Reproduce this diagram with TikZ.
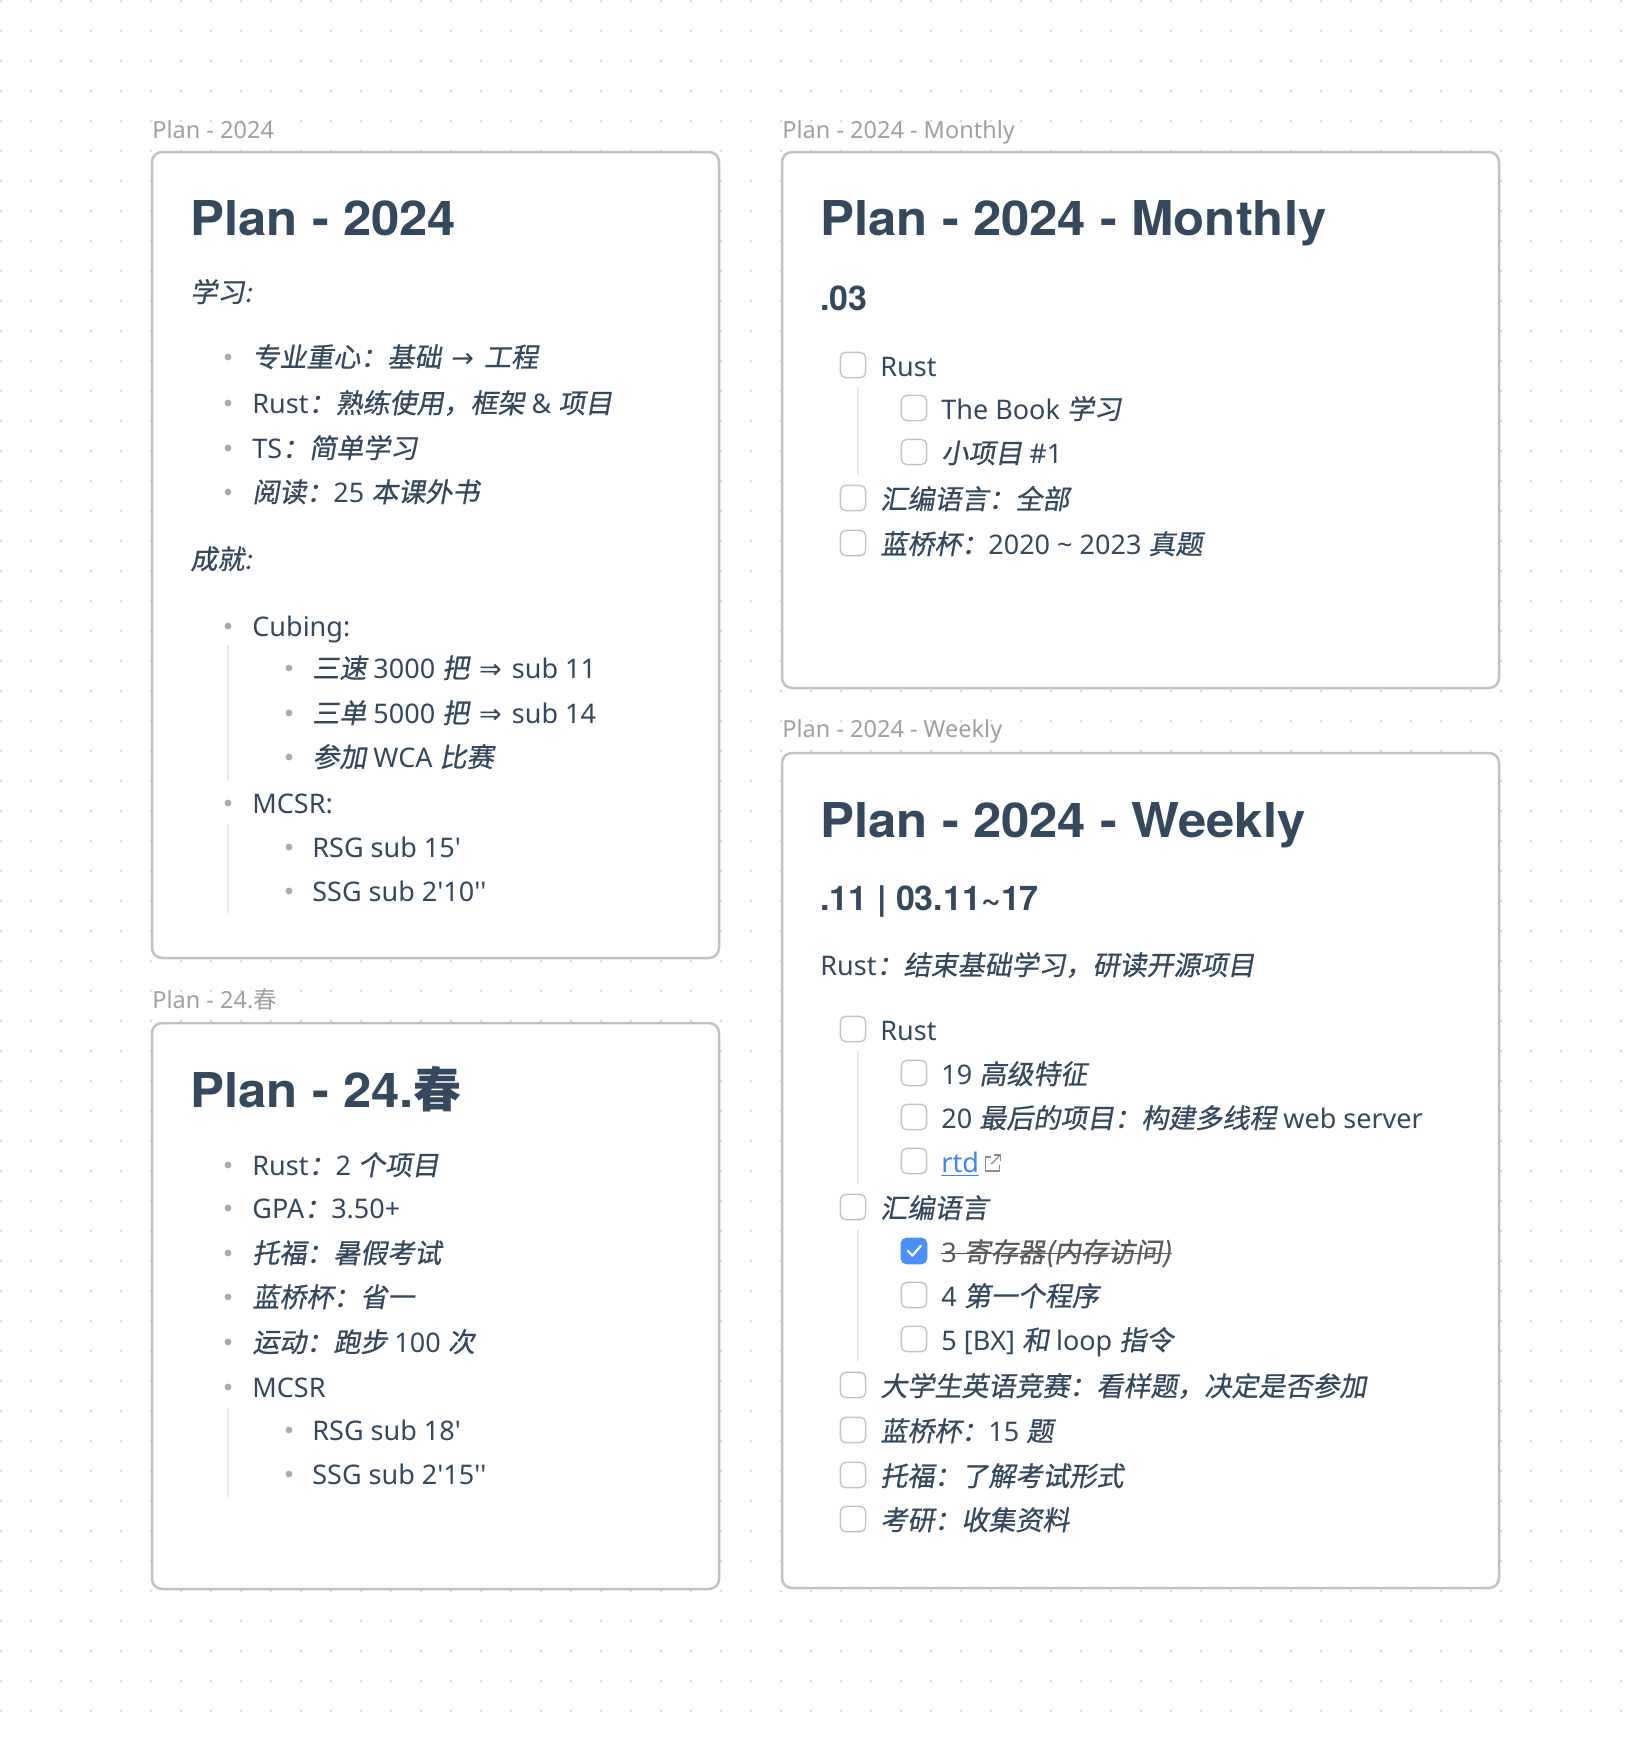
\documentclass[tikz,border=0pt]{standalone}
\usepackage{fontspec}
\setmainfont{Noto Sans}
\newfontfamily\cjkfont[FakeSlant=0.18, FakeBold=0.7]{Noto Sans CJK SC}
\newfontfamily\cjkup{Noto Sans CJK SC}
\newfontfamily\symfont{DejaVu Sans}
\newfontfamily\ttlfont[FakeStretch=1.06]{TeX Gyre Heros}
\newfontfamily\subfont{TeX Gyre Heros}
\newcommand\zh[1]{{\cjkfont #1}}
\newcommand\zhup[1]{{\cjkup #1}}
\newcommand\sym[1]{\hspace{1.5pt}{\symfont #1}\hspace{1.5pt}}
\newcommand\sq{\textquotesingle}
\definecolor{ink}{HTML}{34495E}
\definecolor{lblgray}{HTML}{A0A0A0}
\definecolor{cardline}{HTML}{C2C2C2}
\definecolor{bulgray}{HTML}{ABABAB}
\definecolor{boxgray}{HTML}{C4C4C4}
\definecolor{guidegray}{HTML}{E8E8E8}
\definecolor{dotgray}{HTML}{D9D9D9}
\definecolor{linkblue}{HTML}{3E86F2}
\definecolor{checkblue}{HTML}{4A90F8}
\definecolor{donegray}{HTML}{5A5A5A}
\definecolor{icongray}{HTML}{8A8A8A}
\begin{document}
\begin{tikzpicture}[x=0.5pt,y=-0.5pt,
  txt/.style={anchor=base west, inner sep=0pt, text=ink, text height=10pt, text depth=3pt, font=\fontsize{13.5}{16}\selectfont},
  ttl/.style={anchor=base west, inner sep=0pt, text=ink, font=\ttlfont\fontsize{24}{28}\selectfont\bfseries},
  subhead/.style={anchor=base west, inner sep=0pt, text=ink, font=\subfont\fontsize{17}{20}\selectfont\bfseries},
  lbl/.style={anchor=base west, inner sep=0pt, text=lblgray, text height=8pt, text depth=2pt, font=\fontsize{11.75}{14}\selectfont},
  card/.style={draw=cardline, line width=1.25pt, fill=white, rounded corners=5pt},
  bul/.style={circle, fill=bulgray, inner sep=0pt, minimum size=3.4pt},
  cbox/.style={draw=boxgray, line width=0.7pt, rounded corners=2.6pt, minimum size=12.6pt, inner sep=0pt, fill=white},
  donebox/.style={cbox, draw=checkblue, fill=checkblue},
  guide/.style={draw=guidegray, line width=0.75pt},
  strk/.style={draw=donegray, line width=0.7pt}
]
\fill[white] (0,0) rectangle (1650,1740);
\useasboundingbox (0,0) rectangle (1650,1740);
% dotted background
\foreach \i in {0,...,54} {
  \foreach \j in {0,...,57} {
    \fill[dotgray] (1+30*\i,1+30*\j) circle (0.65pt);
  }
}
% cards
\draw[card] (152,152) rectangle (719,958);
\draw[card] (152,1023) rectangle (719,1589);
\draw[card] (782,152) rectangle (1499,688);
\draw[card] (782,753) rectangle (1499,1588);

% ===== Card A: Plan - 2024 =====
\node[lbl] (alb) at (152,138) {Plan - 2024};
\node[ttl] (att) at (190,235) {Plan - 2024};
\node[txt] (ah1) at (190,302) {\zh{学习:}};
\node[bul] (a1b) at (228,357) {};
\node[txt] (a1) at (252,367) {\zh{专业重心：基础} \sym{→} \zh{工程}};
\node[bul] (a2b) at (228,403) {};
\node[txt] (a2) at (252,413) {Rust\zh{：熟练使用，框架} \& \zh{项目}};
\node[bul] (a3b) at (228,448) {};
\node[txt] (a3) at (252,458) {TS\zh{：简单学习}};
\node[bul] (a4b) at (228,492) {};
\node[txt] (a4) at (252,502) {\zh{阅读：}25 \zh{本课外书}};
\node[txt] (ah2) at (190,569) {\zh{成就:}};
\node[bul] (a5b) at (228,626) {};
\node[txt] (a5) at (252,636) {Cubing:};
\node[bul] (a6b) at (289,668) {};
\node[txt] (a6) at (312,678) {\zh{三速} 3000 \zh{把} \sym{⇒} sub 11};
\node[bul] (a7b) at (289,713) {};
\node[txt] (a7) at (312,723) {\zh{三单} 5000 \zh{把} \sym{⇒} sub 14};
\node[bul] (a8b) at (289,757) {};
\node[txt] (a8) at (312,767) {\zh{参加} WCA \zh{比赛}};
\node[bul] (a9b) at (228,803) {};
\node[txt] (a9) at (252,813) {MCSR:};
\node[bul] (a10b) at (289,847) {};
\node[txt] (a10) at (312,857) {RSG sub 15\sq};
\node[bul] (a11b) at (289,891) {};
\node[txt] (a11) at (312,901) {SSG sub 2\sq10\sq\sq};
\draw[guide] (228,645) -- (228,780);
\draw[guide] (228,824) -- (228,913);

% ===== Card C: Plan - 24.春 =====
\node[lbl] (clb) at (152,1008) {Plan - 24.\zhup{春}};
\node[ttl] (ctt) at (190,1107) {Plan - 24.\zhup{春}};
\node[bul] (c1b) at (228,1165) {};
\node[txt] (c1) at (252,1175) {Rust\zh{：}2 \zh{个项目}};
\node[bul] (c2b) at (228,1208) {};
\node[txt] (c2) at (252,1218) {GPA\zh{：}3.50+};
\node[bul] (c3b) at (228,1253) {};
\node[txt] (c3) at (252,1263) {\zh{托福：暑假考试}};
\node[bul] (c4b) at (228,1297) {};
\node[txt] (c4) at (252,1307) {\zh{蓝桥杯：省一}};
\node[bul] (c5b) at (228,1342) {};
\node[txt] (c5) at (252,1352) {\zh{运动：跑步} 100 \zh{次}};
\node[bul] (c6b) at (228,1387) {};
\node[txt] (c6) at (252,1397) {MCSR};
\node[bul] (c7b) at (289,1430) {};
\node[txt] (c7) at (312,1440) {RSG sub 18\sq};
\node[bul] (c8b) at (289,1474) {};
\node[txt] (c8) at (312,1484) {SSG sub 2\sq15\sq\sq};
\draw[guide] (228,1408) -- (228,1497);

% ===== Card B: Monthly =====
\node[lbl] (blb) at (782,138) {Plan - 2024 - Monthly};
\node[ttl] (btt) at (820,235) {Plan - 2024 - Monthly};
\node[subhead] (bsh) at (820,310) {.03};
\node[cbox] (b1c) at (853,365) {};
\node[txt] (b1) at (880,376) {Rust};
\node[cbox] (b2c) at (914,408) {};
\node[txt] (b2) at (941,419) {The Book \zh{学习}};
\node[cbox] (b3c) at (914,452) {};
\node[txt] (b3) at (941,463) {\zh{小项目} \#1};
\node[cbox] (b4c) at (853,498) {};
\node[txt] (b4) at (880,509) {\zh{汇编语言：全部}};
\node[cbox] (b5c) at (853,543) {};
\node[txt] (b5) at (880,554) {\zh{蓝桥杯：}2020 \textasciitilde{} 2023 \zh{真题}};
\draw[guide] (858,387) -- (858,475);

% ===== Card D: Weekly =====
\node[lbl] (dlb) at (782,737) {Plan - 2024 - Weekly};
\node[ttl] (dtt) at (820,837) {Plan - 2024 - Weekly};
\node[subhead] (dsh) at (820,910) {.11 | 03.11\textasciitilde17};
\node[txt] (din) at (820,975) {Rust\zh{：结束基础学习，研读开源项目}};
\node[cbox] (d1c) at (853,1029) {};
\node[txt] (d1) at (880,1040) {Rust};
\node[cbox] (d2c) at (914,1073) {};
\node[txt] (d2) at (941,1084) {19 \zh{高级特征}};
\node[cbox] (d3c) at (914,1117) {};
\node[txt] (d3) at (941,1128) {20 \zh{最后的项目：构建多线程} web server};
\node[cbox] (d4c) at (914,1161) {};
\node[txt, text=linkblue] (d4) at (941,1172) {rtd};
\draw[linkblue, line width=0.7pt] ([yshift=-1.8pt]d4.base west) -- ([yshift=-1.8pt]d4.base east);
\begin{scope}[shift={(d4.base east)}, draw=icongray, line width=0.6pt]
  \draw (12,-15) -- (6,-15) -- (6,-1) -- (20,-1) -- (20,-7);
  \draw (12,-8) -- (21,-17);
  \draw (15,-17) -- (21,-17) -- (21,-11);
\end{scope}
\node[cbox] (d5c) at (853,1207) {};
\node[txt] (d5) at (880,1218) {\zh{汇编语言}};
\node[donebox] (d6c) at (914,1251) {};
\draw[white, line width=1.1pt, line cap=round, line join=round]
  ([xshift=-3.2pt,yshift=0.2pt]d6c.center) -- ([xshift=-0.8pt,yshift=-2.3pt]d6c.center) -- ([xshift=3.4pt,yshift=2.6pt]d6c.center);
\node[txt, text=donegray] (d6) at (941,1262) {3 \zh{寄存器(内存访问)}};
\draw[strk] ([yshift=4.2pt]d6.base west) -- ([yshift=4.2pt]d6.base east);
\node[cbox] (d7c) at (914,1295) {};
\node[txt] (d7) at (941,1306) {4 \zh{第一个程序}};
\node[cbox] (d8c) at (914,1339) {};
\node[txt] (d8) at (941,1350) {5 [BX] \zh{和} loop \zh{指令}};
\node[cbox] (d9c) at (853,1385) {};
\node[txt] (d9) at (880,1396) {\zh{大学生英语竞赛：看样题，决定是否参加}};
\node[cbox] (d10c) at (853,1430) {};
\node[txt] (d10) at (880,1441) {\zh{蓝桥杯：}15 \zh{题}};
\node[cbox] (d11c) at (853,1475) {};
\node[txt] (d11) at (880,1486) {\zh{托福：了解考试形式}};
\node[cbox] (d12c) at (853,1519) {};
\node[txt] (d12) at (880,1530) {\zh{考研：收集资料}};
\draw[guide] (858,1051) -- (858,1184);
\draw[guide] (858,1230) -- (858,1361);
\end{tikzpicture}
\end{document}
